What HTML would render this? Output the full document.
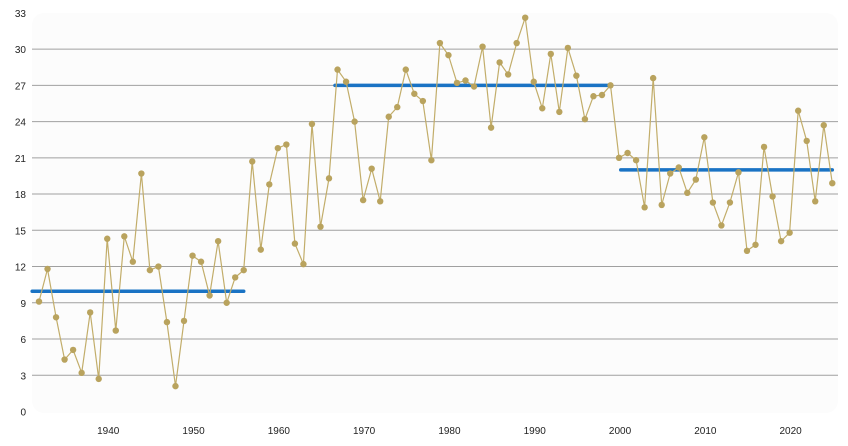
<!DOCTYPE html>
<html><head><meta charset="utf-8"><style>
body{margin:0;background:#fff;}
svg{display:block;font-family:"Liberation Sans",sans-serif;}
</style></head><body>
<svg id="chart" width="848" height="446">
<rect x="32" y="13" width="806" height="400" rx="12" fill="#fcfcfc"/>
<g id="grid"></g><g id="means"></g><g id="series"></g><g id="xlabels"></g>
</svg>
<script>
const years = [];
for (let y = 1932; y <= 2025; y++) years.push(y);
const values = [9.1,11.8,7.8,4.3,5.1,3.2,8.2,2.7,14.3,6.7,14.5,12.4,19.7,11.7,12.0,7.4,2.1,7.5,12.9,12.4,9.6,14.1,9.0,11.1,11.7,20.7,13.4,18.8,21.8,22.1,13.9,12.2,23.8,15.3,19.3,28.3,27.3,24.0,17.5,20.1,17.4,24.4,25.2,28.3,26.3,25.7,20.8,30.5,29.5,27.2,27.4,26.9,30.2,23.5,28.9,27.9,30.5,32.6,27.3,25.1,29.6,24.8,30.1,27.8,24.2,26.1,26.2,27.0,21.0,21.4,20.8,16.9,27.6,17.1,19.7,20.2,18.1,19.2,22.7,17.3,15.4,17.3,19.8,13.3,13.8,21.9,17.8,14.1,14.8,24.9,22.4,17.4,23.7,18.9];
const yTicks = [0,3,6,9,12,15,18,21,24,27,30,33];
const xTicks = [1940,1950,1960,1970,1980,1990,2000,2010,2020];
const meanStarts = [1931.2,1966.7,2000.2];
const meanEnds = [1956,1999,2025];
const meanVals = [9.95,27.0,20.0];
const NS = "http://www.w3.org/2000/svg";
const X = y => 39 + (y - 1932) * 8.53;
const Y = v => 411.5 - v * 12.08;
function mk(tag, attrs, parent){const e=document.createElementNS(NS,tag);for(const k in attrs)e.setAttribute(k,attrs[k]);parent.appendChild(e);return e;}
const grid=document.getElementById('grid');
yTicks.forEach(t=>{
  if(t>0&&t<33){const l=mk('line',{x1:32,x2:838,y1:Y(t),y2:Y(t),stroke:'#a0a0a0','stroke-width':1},grid);
  
  }
  const tx=mk('text',{x:26,y:Y(t)+4,'text-anchor':'end','font-size':10,fill:'#222'},grid);
  tx.textContent=t;
  
  
});
const xl=document.getElementById('xlabels');
xTicks.forEach(t=>{
  const tx=mk('text',{x:X(t)+1,y:434,'text-anchor':'middle','font-size':10,fill:'#222'},xl);
  tx.textContent=t;
  
  
});
const mg=document.getElementById('means');
meanVals.forEach((v,i)=>{
  const l=mk('line',{x1:X(meanStarts[i]),x2:X(meanEnds[i]),y1:Y(v),y2:Y(v),stroke:'#1a73c4','stroke-width':3.5,'stroke-linecap':'round'},mg);
  
  
});
const sg=document.getElementById('series');
const pts=values.map((v,i)=>X(years[i]).toFixed(1)+','+Y(v).toFixed(1)).join(' ');
const pl=mk('polyline',{points:pts,fill:'none',stroke:'#c2ad6a','stroke-width':1.2},sg);


values.forEach((v,i)=>{
  const c=mk('circle',{cx:X(years[i]),cy:Y(v),r:3.2,fill:'#b9a35e'},sg);
  
  
});
</script>
</body></html>
